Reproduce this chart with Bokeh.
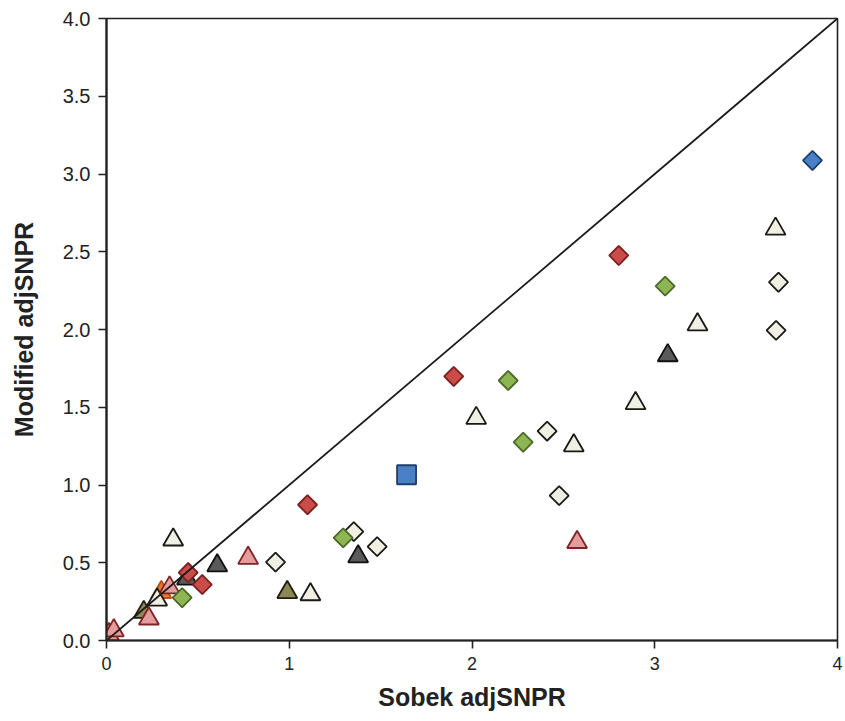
import numpy as np
from bokeh.plotting import figure
from bokeh.models import Range1d, FixedTicker
from bokeh.embed import file_html
from bokeh.resources import INLINE

# Sobek adjSNPR (x) vs modified adjSNPR (y), one array pair per marker style
cream_tri_x = [0.365, 0.277, 1.116, 2.023, 2.557, 2.895, 3.234, 3.661]
cream_tri_y = [0.648, 0.262, 0.296, 1.430, 1.254, 1.525, 2.032, 2.647]

cream_dia_x = [0.925, 1.353, 1.481, 2.411, 2.477, 3.664, 3.677]
cream_dia_y = [0.504, 0.700, 0.604, 1.346, 0.932, 1.994, 2.304]

red_dia_x = [0.447, 0.524, 1.100, 1.900, 2.803]
red_dia_y = [0.437, 0.360, 0.873, 1.698, 2.476]

green_dia_x = [0.414, 1.295, 2.198, 2.280, 3.057]
green_dia_y = [0.275, 0.660, 1.672, 1.275, 2.279]

pink_tri_x = [0.013, 0.040, 0.232, 0.345, 0.775, 2.575]
pink_tri_y = [0.040, 0.064, 0.140, 0.340, 0.530, 0.632]

dark_tri_x = [0.440, 0.606, 1.377, 3.071]
dark_tri_y = [0.397, 0.482, 0.540, 1.833]

olive_tri_x = [0.000, 0.204, 0.989]
olive_tri_y = [0.010, 0.182, 0.310]

orange_tri_x = [0.300]
orange_tri_y = [0.310]

blue_sq_x = [1.642]
blue_sq_y = [1.066]

blue_dia_x = [3.863]
blue_dia_y = [3.087]

# identity line
diag = [0, 4]

x_ticks = [0, 1, 2, 3, 4]
y_ticks = [0.0, 0.5, 1.0, 1.5, 2.0, 2.5, 3.0, 3.5, 4.0]

p = figure(width=845, height=721, output_backend="svg", toolbar_location=None,
           x_range=Range1d(0, 4), y_range=Range1d(0, 4),
           min_border_left=106, min_border_right=8, min_border_top=18,
           min_border_bottom=81)
p.xgrid.visible = False
p.ygrid.visible = False
p.background_fill_color = "white"
p.border_fill_color = "white"
p.outline_line_color = "#222222"
p.outline_line_width = 1.6

for ax in (p.xaxis[0], p.yaxis[0]):
    ax.axis_line_color = "#222222"
    ax.axis_line_width = 2.2
    ax.major_tick_line_color = "#222222"
    ax.major_tick_line_width = 1.6
    ax.major_tick_in = 0
    ax.major_tick_out = 8
    ax.minor_tick_line_color = None
    ax.major_label_text_color = "#222222"
    ax.axis_label_text_color = "#222222"
    ax.axis_label_text_font_style = "bold"

p.xaxis.ticker = FixedTicker(ticks=x_ticks)
p.yaxis.ticker = FixedTicker(ticks=y_ticks)
p.xaxis.major_label_overrides = {t: str(t) for t in x_ticks}
p.yaxis.major_label_overrides = {t: f"{t:.1f}" for t in y_ticks}

p.xaxis.major_label_text_font = "Liberation Sans"
p.xaxis.major_label_text_font_size = "18px"
p.xaxis.major_label_standoff = 8
p.yaxis.major_label_text_font = "Liberation Sans"
p.yaxis.major_label_text_font_size = "20px"
p.yaxis.major_label_standoff = 8

p.xaxis.axis_label = "Sobek adjSNPR"
p.yaxis.axis_label = "Modified adjSNPR"
p.xaxis.axis_label_text_font = "Liberation Sans"
p.yaxis.axis_label_text_font = "Liberation Sans"
p.xaxis.axis_label_text_font_size = "25px"
p.yaxis.axis_label_text_font_size = "25px"
p.xaxis.axis_label_standoff = 10
p.yaxis.axis_label_standoff = 22

TRI = 20
DIA = 13.5
SQ = 19
LW = 1.8


def tri(x, y, fill, line):
    p.scatter(x, y, marker="triangle", size=TRI, fill_color=fill,
              line_color=line, line_width=LW)


def dia(x, y, fill, line):
    p.scatter(x, y, marker="square", angle=np.pi / 4, size=DIA,
              fill_color=fill, line_color=line, line_width=LW)


tri(orange_tri_x, orange_tri_y, "#E8762C", "#B5501A")
tri(olive_tri_x, olive_tri_y, "#8D8756", "#1E1E14")
tri(cream_tri_x, cream_tri_y, "#EFEFE4", "#1A1A14")
tri(pink_tri_x, pink_tri_y, "#E49C9C", "#7E2424")
tri(dark_tri_x, dark_tri_y, "#5A5A5A", "#111111")
dia(cream_dia_x, cream_dia_y, "#EFEFE4", "#1A1A14")
dia(green_dia_x, green_dia_y, "#8DB552", "#4C6A28")
dia(red_dia_x, red_dia_y, "#C94C48", "#7A2020")
p.scatter(blue_sq_x, blue_sq_y, marker="square", size=SQ,
          fill_color="#4A80C6", line_color="#1E3F6C", line_width=LW)
dia(blue_dia_x, blue_dia_y, "#4A80C6", "#1E3F6C")

p.line(diag, diag, line_color="#1A1A1A", line_width=1.8)

open("out.html", "w").write(file_html(p, INLINE))
